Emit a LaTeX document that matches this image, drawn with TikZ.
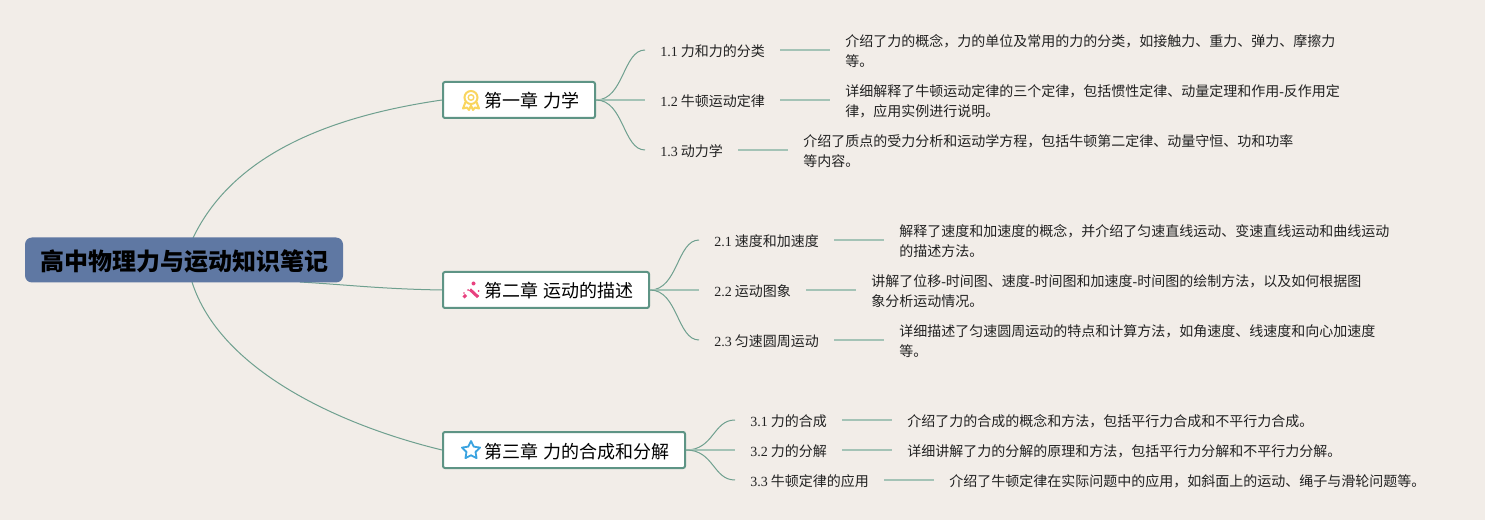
\documentclass[tikz,border=0pt]{standalone}
\usepackage{fontspec}
\setmainfont{Liberation Serif}
\newfontfamily\cjk{Noto Sans CJK SC}
\usetikzlibrary{shapes.geometric}
\definecolor{bgc}{HTML}{F2EDE8}
\definecolor{rootc}{HTML}{5F78A3}
\definecolor{edgec}{HTML}{6FA08F}
\definecolor{lightc}{HTML}{A4C3B6}
\definecolor{boxc}{HTML}{5E9485}
\definecolor{inkc}{HTML}{222222}
\newlength\pxu \setlength\pxu{0.75pt}
\tikzset{
  rootbox/.style={fill=rootc,draw=none,rounded corners=7\pxu,minimum width=318\pxu,minimum height=45\pxu,inner sep=0pt,text=black,text height=15.9pt,text depth=0pt,font=\fontsize{18}{22}\selectfont\cjk\bfseries},
  chapbox/.style={fill=white,draw=boxc,line width=2\pxu,rounded corners=2\pxu,minimum height=36\pxu,inner sep=0pt,text=black,text height=12pt,text depth=0pt,font=\fontsize{13.5}{16}\selectfont\cjk},
  leaf/.style={anchor=west,inner xsep=15\pxu,inner ysep=2\pxu,text=inkc,text height=10.2pt,text depth=0pt,font=\fontsize{10.5}{15}\selectfont\cjk},
  detail/.style={anchor=west,align=left,inner xsep=15\pxu,inner ysep=0pt,text=inkc,font=\fontsize{10.5}{15}\selectfont\cjk},
  thin edge/.style={draw=edgec,line width=1\pxu},
  mid edge/.style={draw=lightc,line width=2\pxu},
}
\newcommand{\nm}[1]{{\rmfamily #1}}
\newcommand{\chapgap}[1]{\hspace*{#1\pxu}}
\begin{document}
\begin{tikzpicture}[x=0.75pt,y=-0.75pt]
\useasboundingbox (0,0) rectangle (1485,520);
\fill[bgc] (0,0) rectangle (1485,520);

% curves from the central topic run underneath it
\node[chapbox,minimum width=152\pxu] (c1) at (519,100) {\chapgap{26}第一章 力学};
\node[chapbox,minimum width=206\pxu] (c2) at (546,290) {\chapgap{26}第二章 运动的描述};
\node[chapbox,minimum width=242\pxu] (c3) at (564,450) {\chapgap{26}第三章 力的合成和分解};
\coordinate (rootcentre) at (184,260);
\coordinate (r1) at (193,238);
\coordinate (r2) at (300,282);
\coordinate (r3) at (192,282);
\draw[thin edge] (r1) .. controls +(42,-88) and +(-103,15) .. (c1.west);
\draw[thin edge] (r2) .. controls +(50,3) and +(-60,-1) .. (c2.west);
\draw[thin edge] (r3) .. controls +(28,88) and +(-103,-25) .. (c3.west);
\node[rootbox] (root) at (rootcentre) {高中物理力与运动知识笔记};

% chapter 1
\node[leaf] (l11) at (645,50) {\nm{1.1} 力和力的分类};
\node[leaf] (l12) at (645,100) {\nm{1.2} 牛顿运动定律};
\node[leaf] (l13) at (645,150) {\nm{1.3} 动力学};
\node[detail] (d11) at (830,51) {介绍了力的概念，力的单位及常用的力的分类，如接触力、重力、弹力、摩擦力\\等。};
\node[detail] (d12) at (830,101) {详细解释了牛顿运动定律的三个定律，包括惯性定律、动量定理和作用\nm{-}反作用定\\律，应用实例进行说明。};
\node[detail] (d13) at (788,151) {介绍了质点的受力分析和运动学方程，包括牛顿第二定律、动量守恒、功和功率\\等内容。};
\draw[thin edge] (c1.east) .. controls +(28,0) and +(-22,0) .. (l11.west);
\draw[mid edge] (c1.east) -- (l12.west);
\draw[thin edge] (c1.east) .. controls +(28,0) and +(-22,0) .. (l13.west);
\draw[mid edge] (l11.east) -- (d11.west |- l11.east);
\draw[mid edge] (l12.east) -- (d12.west |- l12.east);
\draw[mid edge] (l13.east) -- (d13.west |- l13.east);

% chapter 2
\node[leaf] (l21) at (699,240) {\nm{2.1} 速度和加速度};
\node[leaf] (l22) at (699,290) {\nm{2.2} 运动图象};
\node[leaf] (l23) at (699,340) {\nm{2.3} 匀速圆周运动};
\node[detail] (d21) at (884,241) {解释了速度和加速度的概念，并介绍了匀速直线运动、变速直线运动和曲线运动\\的描述方法。};
\node[detail] (d22) at (856,291) {讲解了位移\nm{-}时间图、速度\nm{-}时间图和加速度\nm{-}时间图的绘制方法，以及如何根据图\\象分析运动情况。};
\node[detail] (d23) at (884,341) {详细描述了匀速圆周运动的特点和计算方法，如角速度、线速度和向心加速度\\等。};
\draw[thin edge] (c2.east) .. controls +(28,0) and +(-22,0) .. (l21.west);
\draw[mid edge] (c2.east) -- (l22.west);
\draw[thin edge] (c2.east) .. controls +(28,0) and +(-22,0) .. (l23.west);
\draw[mid edge] (l21.east) -- (d21.west |- l21.east);
\draw[mid edge] (l22.east) -- (d22.west |- l22.east);
\draw[mid edge] (l23.east) -- (d23.west |- l23.east);

% chapter 3
\node[leaf] (l31) at (735,420) {\nm{3.1} 力的合成};
\node[leaf] (l32) at (735,450) {\nm{3.2} 力的分解};
\node[leaf] (l33) at (735,480) {\nm{3.3} 牛顿定律的应用};
\node[detail] (d31) at (892,421) {介绍了力的合成的概念和方法，包括平行力合成和不平行力合成。};
\node[detail] (d32) at (892,451) {详细讲解了力的分解的原理和方法，包括平行力分解和不平行力分解。};
\node[detail] (d33) at (934,481) {介绍了牛顿定律在实际问题中的应用，如斜面上的运动、绳子与滑轮问题等。};
\draw[thin edge] (c3.east) .. controls +(28,0) and +(-22,0) .. (l31.west);
\draw[mid edge] (c3.east) -- (l32.west);
\draw[thin edge] (c3.east) .. controls +(28,0) and +(-22,0) .. (l33.west);
\draw[mid edge] (l31.east) -- (d31.west |- l31.east);
\draw[mid edge] (l32.east) -- (d32.west |- l32.east);
\draw[mid edge] (l33.east) -- (d33.west |- l33.east);

% icons
\definecolor{medalc}{HTML}{F9D55F}
\definecolor{wandc}{HTML}{E8417F}
\definecolor{starc}{HTML}{3AA3E0}
% medal
\draw[medalc,line width=2\pxu] (471,97.5) circle (6.5);
\draw[medalc,line width=1.4\pxu] (471,97.5) circle (2.8);
\draw[medalc,line width=2\pxu,line join=round] (465.5,102) -- (463,108.5) -- (467,107.5) -- (469,110) -- (471,105.5) -- (473,110) -- (475,107.5) -- (479,108.5) -- (476.5,102);
% wand
\draw[wandc,line width=3\pxu] (463.5,297.5) -- (466,295);
\draw[wandc,line width=3\pxu] (470,289.5) -- (478,297);
\fill[wandc] (473.5,283.5) circle (2) (478.5,291) circle (1) (468,290) circle (1) (464,293) circle (.8) (478,296) circle (1);
% star
\node[star,star points=5,star point ratio=2.0,draw=starc,line width=1.8\pxu,line join=round,fill=none,minimum size=19\pxu,inner sep=0pt] (staricon) at (471,450.5) {};
\end{tikzpicture}
\end{document}
